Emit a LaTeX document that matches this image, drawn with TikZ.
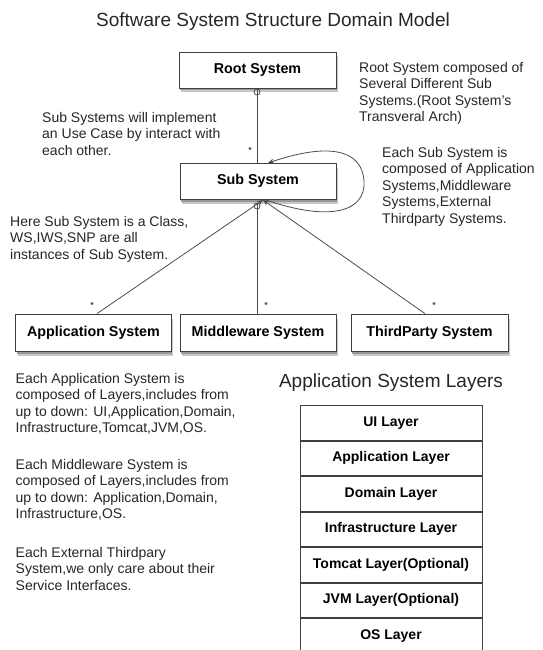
\documentclass[tikz,border=0pt]{standalone}
\usepackage{fontspec}
\setmainfont{Liberation Sans}
\usetikzlibrary{arrows.meta,shadows}
\begin{document}
\begin{tikzpicture}[x=1pt,y=-1pt,
  box/.style={draw=black!75,line width=0.8pt,fill=white,rectangle,
    drop shadow={fill=black!22,opacity=1,shadow xshift=2pt,shadow yshift=-4.5pt},
    drop shadow={fill=black!40,opacity=1,shadow xshift=1pt,shadow yshift=-2.5pt},
    font=\fontsize{14.3}{15}\selectfont\bfseries,inner sep=0pt},
  layer/.style={draw=black!75,line width=0.8pt,fill=white,rectangle,minimum width=182pt,minimum height=34.7pt,
    font=\fontsize{14}{15}\selectfont\bfseries,inner sep=0pt},
  note/.style={anchor=north west,align=left,inner sep=0pt,text=black!85,font=\fontsize{14}{16.5}\selectfont},
  ttl/.style={font=\fontsize{19}{20}\selectfont,text=black!85,inner sep=0pt},
  star/.style={font=\fontsize{9}{9}\selectfont,inner sep=0pt},
  conn/.style={draw=black!70,line width=0.8pt},
  tip/.style={-{Stealth[length=6pt,width=5pt]}}
]
\useasboundingbox (0,0) rectangle (542,650);

\node[ttl] (title) at (273,22) {Software System Structure Domain Model};

\node[box,minimum width=157pt,minimum height=36pt] (root) at (257.5,70) {Root System};
\node[box,minimum width=156pt,minimum height=36pt] (sub) at (258,181) {Sub System};
\node[box,minimum width=155.5pt,minimum height=37pt] (app) at (93.5,332.5) {Application System};
\node[box,minimum width=156pt,minimum height=37pt] (mid) at (258,332.5) {Middleware System};
\node[box,minimum width=157pt,minimum height=37pt] (tp) at (429.5,332.5) {ThirdParty System};

\node[note] (n1) at (359,62) {Root System composed of\\Several Different Sub\\Systems.(Root System's\\Transveral Arch)};
\node[note] (n2) at (42,112) {Sub Systems will implement\\an Use Case by interact with\\each other.};
\node[note] (n3) at (382,147) {Each Sub System is\\composed of Application\\Systems,Middleware\\Systems,External\\Thirdparty Systems.};
\node[note] (n4) at (10,216) {Here Sub System is a Class,\\WS,IWS,SNP are all\\instances of Sub System.};
\node[note] (n5) at (15.5,373) {Each Application System is\\composed of Layers,includes from\\up to down: UI,Application,Domain,\\Infrastructure,Tomcat,JVM,OS.};
\node[note] (n6) at (15.5,459) {Each Middleware System is\\composed of Layers,includes from\\up to down: Application,Domain,\\Infrastructure,OS.};
\node[note] (n7) at (15.5,547) {Each External Thirdpary\\System,we only care about their\\Service Interfaces.};

% connectors
\coordinate (rb) at (257,92);
\draw[conn] (rb) circle (3pt);
\draw[conn] ([yshift=3pt]rb) -- (sub.north -| rb);
\node[star] (s0) at (250,150) {*};

\coordinate (sb) at (263,200);
\coordinate (lt) at (268,163);
\draw[conn,tip] (app.north -| 97,0) -- (sb);
\draw[conn,tip] (tp.north -| 425,0) -- (sb);
\coordinate (mc) at (257,206);
\draw[conn] (mid.north -| mc) -- ([yshift=3pt]mc);
\draw[conn] (mc) circle (3pt);
\draw[conn,tip] (266,200) .. controls (330,222) and (366,212) .. (364,181) .. controls (362,150) and (330,142) .. (lt);

\node[star] (s1) at (92,305) {*};
\node[star] (s2) at (266,305) {*};
\node[star] (s3) at (434,305) {*};

% layers
\node[ttl] (lt0) at (391,383) {Application System Layers};
\node[layer,anchor=north] (l1) at (391,405) {UI Layer};
\node[layer,anchor=north] (l2) at (l1.south) {Application Layer};
\node[layer,anchor=north] (l3) at (l2.south) {Domain Layer};
\node[layer,anchor=north] (l4) at (l3.south) {Infrastructure Layer};
\node[layer,anchor=north] (l5) at (l4.south) {Tomcat Layer(Optional)};
\node[layer,anchor=north] (l6) at (l5.south) {JVM Layer(Optional)};
\node[layer,anchor=north] (l7) at (l6.south) {OS Layer};
\end{tikzpicture}
\end{document}
